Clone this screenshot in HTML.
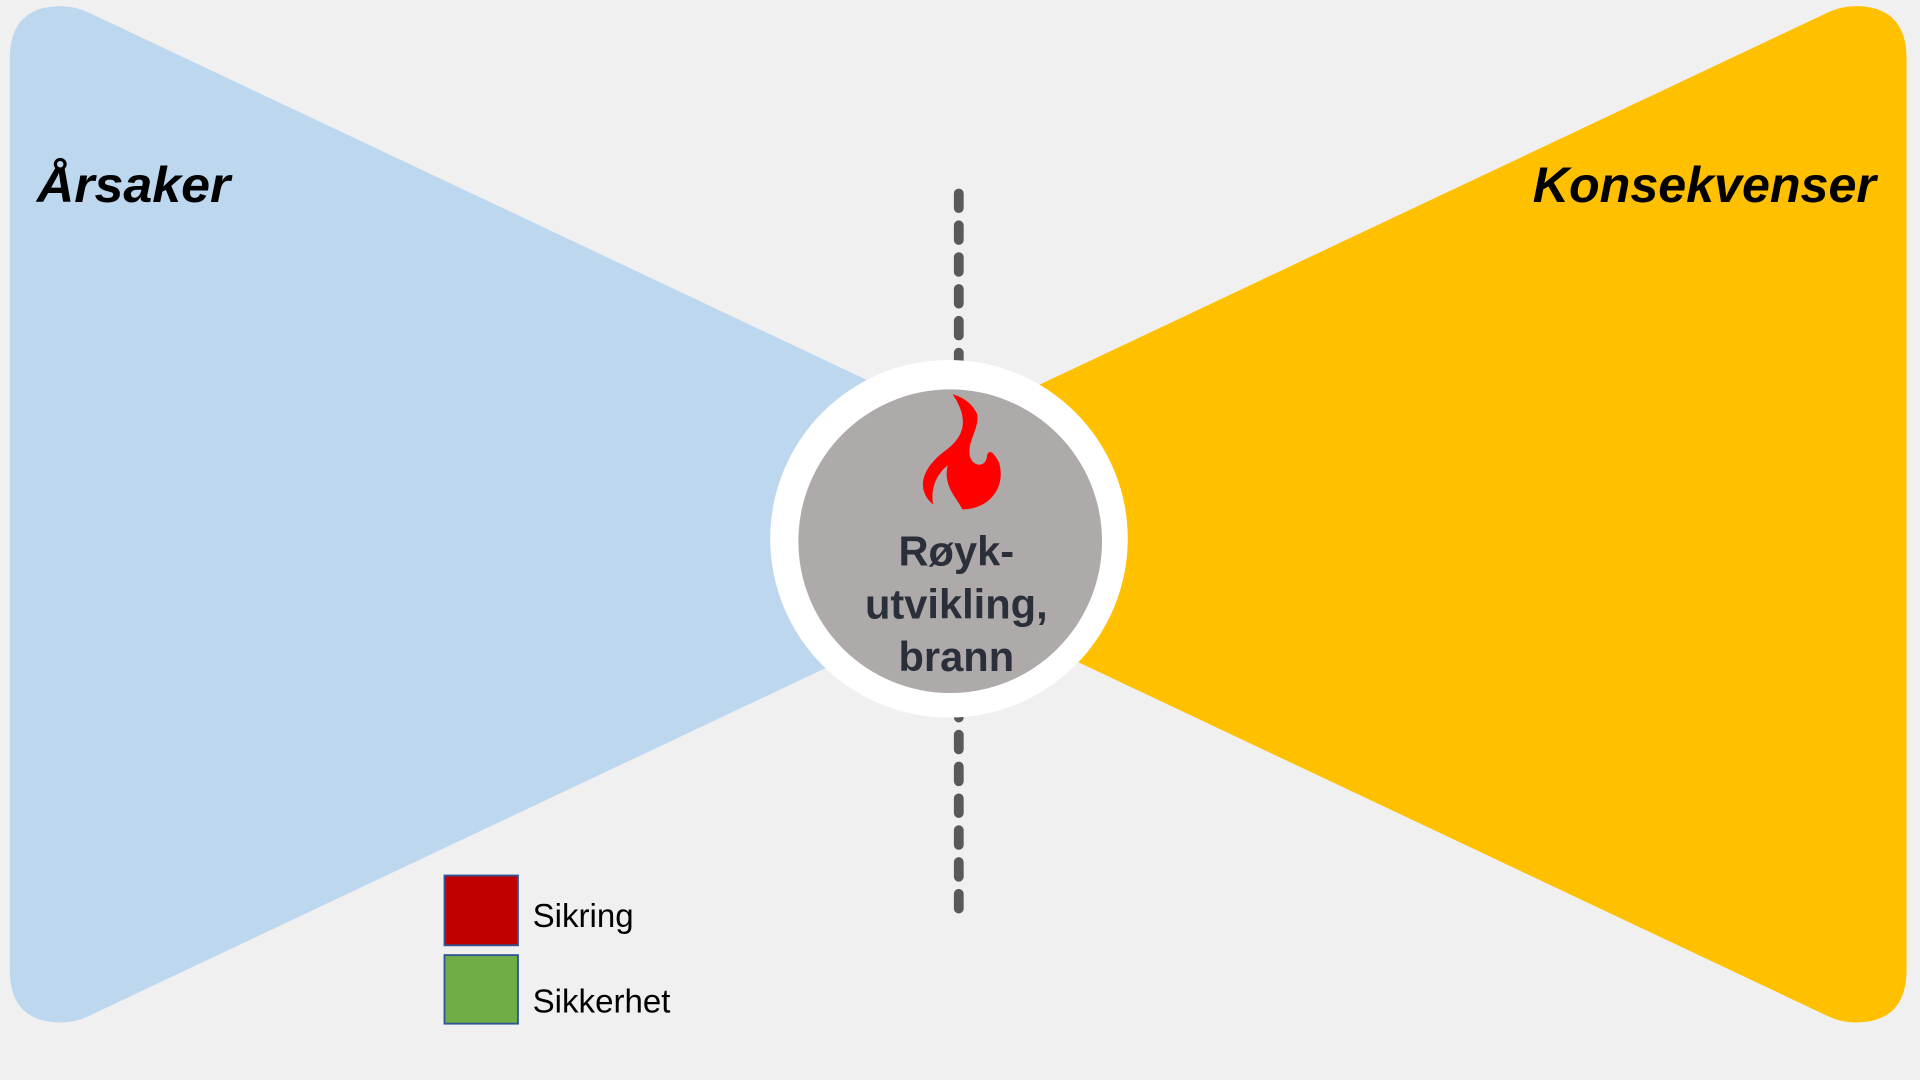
<!DOCTYPE html>
<html><head><meta charset="utf-8"><style>
html,body{margin:0;padding:0;background:#f0f0f0;}
svg{display:block;}
</style></head><body>
<svg width="1920" height="1080" viewBox="0 0 1568 882" xmlns="http://www.w3.org/2000/svg">
<rect width="1568" height="882" fill="#f0f0f0"/>
<path d="M8,48 Q8,5 50,5 Q62,5 74,11 L900,401 L900,439 L74,829 Q62,835 50,835 Q8,835 8,792 Z" fill="#bdd7ee"/>
<path d="M1557,48 Q1557,5 1515,5 Q1503,5 1491,11 L665,401 L665,439 L1491,829 Q1503,835 1515,835 Q1557,835 1557,792 Z" fill="#ffc000"/>
<line x1="783" y1="158" x2="783" y2="745" stroke="#595959" stroke-width="8" stroke-linecap="round" stroke-dasharray="12,14"/>
<circle cx="775" cy="440" r="146" fill="#ffffff"/>
<circle cx="776" cy="442" r="124" fill="#aeaaaa"/>
<path d="M778,322 C790,340 790,355 772,368 C752,383 748,400 762,412 C760,400 764,388 774,380 C770,396 780,405 786,416 C806,416 822,400 816,378 C812,370 808,366 806,372 C806,382 794,382 792,372 C790,360 800,350 798,338 C794,330 788,325 778,322 Z" fill="#ff0000"/>
<g font-family="Liberation Sans, sans-serif" font-weight="bold" fill="#2b2f3a" font-size="34" text-anchor="middle">
<text x="781" y="462">Røyk-</text>
<text x="781" y="505">utvikling,</text>
<text x="781" y="548">brann</text>
</g>
<g font-family="Liberation Sans, sans-serif" font-weight="bold" font-style="italic" font-size="41" fill="#000">
<text x="30" y="165" textLength="158" lengthAdjust="spacingAndGlyphs">Årsaker</text>
<text x="1532" y="165" text-anchor="end">Konsekvenser</text>
</g>
<rect x="363" y="715" width="60" height="57" fill="#c00000" stroke="#2f5597" stroke-width="1.5"/>
<rect x="363" y="780" width="60" height="56" fill="#70ad47" stroke="#2f5597" stroke-width="1.5"/>
<g font-family="Liberation Sans, sans-serif" font-size="27" fill="#000">
<text x="435" y="757">Sikring</text>
<text x="435" y="827">Sikkerhet</text>
</g>
</svg>
</body></html>
